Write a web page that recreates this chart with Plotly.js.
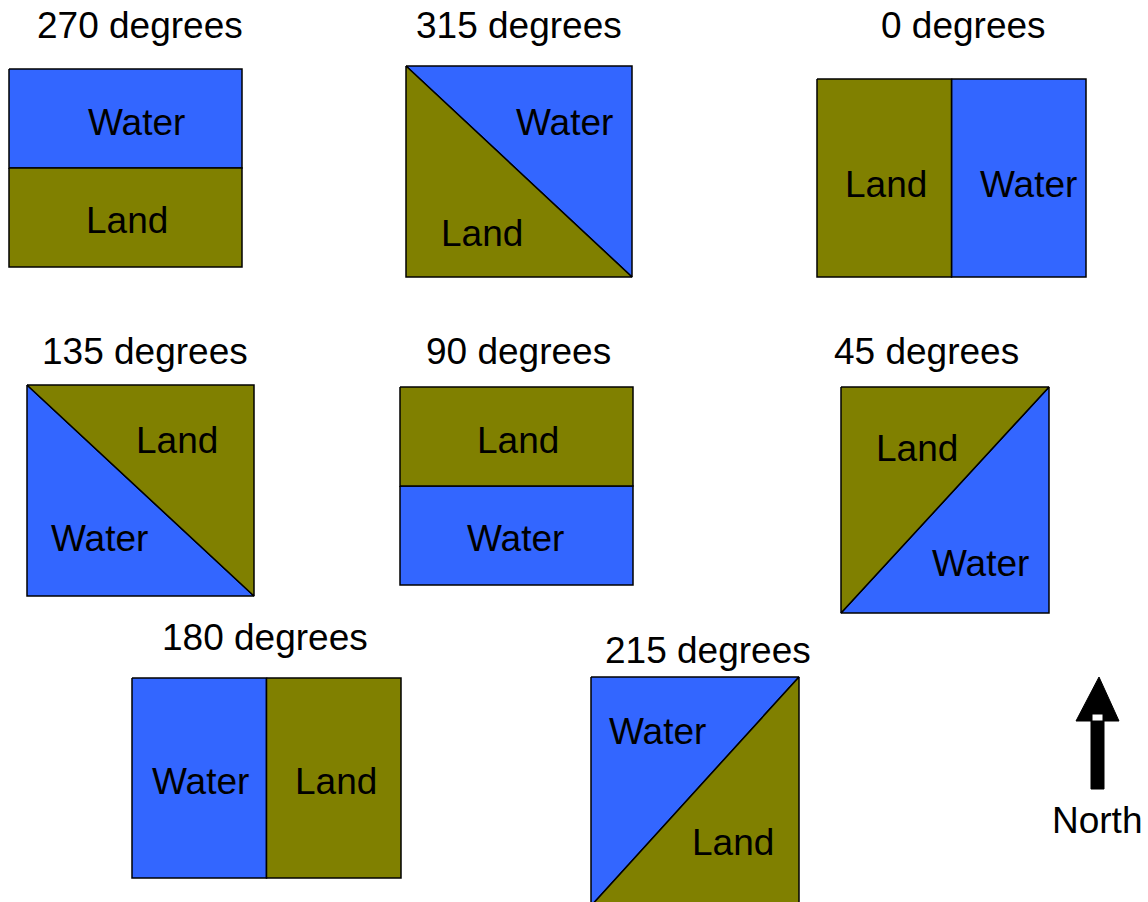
<!DOCTYPE html>
<html>
<head>
<meta charset="utf-8">
<script src="https://cdn.plot.ly/plotly-3.0.1.min.js"></script>
<style>html,body{margin:0;padding:0;background:#fff;}#chart{width:1148px;height:902px;}</style>
</head>
<body>
<div id="chart"></div>
<script>
// ---- data ----
var panelTitles = ['270 degrees', '315 degrees', '0 degrees', '135 degrees', '90 degrees', '45 degrees', '180 degrees', '215 degrees'];
var panelAngles = [270, 315, 0, 135, 90, 45, 180, 215];
var regionNames = ['Water', 'Land'];
var northLabel = 'North';

// ---- layout positions (pixels) ----
// box: [x0, x1, y0(top), y1(bottom)]
var panelBoxes = [
  [9, 242, 69, 267],
  [406, 632, 66, 277],
  [817, 1086, 79, 277],
  [27, 254, 385, 596],
  [400, 633, 387, 585],
  [841, 1049, 387, 613],
  [132, 401, 678, 878],
  [591, 799, 677, 906]
];
var titlePos = [[140, 25], [519, 25], [963, 25], [145, 351], [518, 351], [926, 351], [265, 637], [708, 650]];
// label positions [water, land]
var waterPos = [[136, 122], [564, 122], [1028, 184], [99, 538], [515, 538], [980, 563], [200, 781], [657, 731]];
var landPos  = [[127, 220], [482, 233], [886, 184], [177, 440], [518, 440], [917, 448], [336, 781], [733, 842]];

var WATER = '#3366ff', LAND = '#808000', EDGE = '#000000';

// Geometry of the two regions for each wind angle
function regions(angle, b) {
  var x0 = b[0], x1 = b[1], y0 = b[2], y1 = b[3];
  var xm = (x0 + x1) / 2, ym = (y0 + y1) / 2;
  var top = [[x0, y0], [x1, y0], [x1, ym], [x0, ym]];
  var bot = [[x0, ym], [x1, ym], [x1, y1], [x0, y1]];
  var left = [[x0, y0], [xm, y0], [xm, y1], [x0, y1]];
  var right = [[xm, y0], [x1, y0], [x1, y1], [xm, y1]];
  var ur = [[x0, y0], [x1, y0], [x1, y1]];      // upper-right triangle (diag TL-BR)
  var ll = [[x0, y0], [x1, y1], [x0, y1]];      // lower-left triangle
  var ul = [[x0, y0], [x1, y0], [x0, y1]];      // upper-left triangle (diag BL-TR)
  var lr = [[x1, y0], [x1, y1], [x0, y1]];      // lower-right triangle
  switch (angle) {
    case 270: return {water: top, land: bot};
    case 90:  return {water: bot, land: top};
    case 0:   return {water: right, land: left};
    case 180: return {water: left, land: right};
    case 315: return {water: ur, land: ll};
    case 135: return {water: ll, land: ur};
    case 45:  return {water: lr, land: ul};
    case 215: return {water: ul, land: lr};
  }
}

function poly(pts, color, lw) {
  var xs = pts.map(function (p) { return p[0]; });
  var ys = pts.map(function (p) { return p[1]; });
  xs.push(pts[0][0]); ys.push(pts[0][1]);
  return {x: xs, y: ys, type: 'scatter', mode: 'lines', fill: 'toself', fillcolor: color,
          line: {color: EDGE, width: lw || 1.5}, hoverinfo: 'skip', showlegend: false};
}

var traces = [];
var annotations = [];
var FONT = {family: 'Liberation Sans, Arial, sans-serif', size: 37, color: '#000'};

panelAngles.forEach(function (a, i) {
  var r = regions(a, panelBoxes[i]);
  traces.push(poly(r.water, WATER));
  traces.push(poly(r.land, LAND));
  annotations.push({x: titlePos[i][0], y: titlePos[i][1], text: panelTitles[i], showarrow: false,
                    xref: 'x', yref: 'y', xanchor: 'center', yanchor: 'middle', font: FONT});
  annotations.push({x: waterPos[i][0], y: waterPos[i][1], text: regionNames[0], showarrow: false,
                    xref: 'x', yref: 'y', xanchor: 'center', yanchor: 'middle', font: FONT});
  annotations.push({x: landPos[i][0], y: landPos[i][1], text: regionNames[1], showarrow: false,
                    xref: 'x', yref: 'y', xanchor: 'center', yanchor: 'middle', font: FONT});
});

// North arrow
var arrowHead = [[1099, 677], [1119, 721], [1076, 721]];
var arrowShaft = [[1091, 721], [1104, 721], [1104, 789], [1091, 789]];
var arrowGap = [[1092, 714], [1103, 714], [1103, 721], [1092, 721]];
traces.push(poly(arrowHead, '#000', 1));
traces.push(poly(arrowShaft, '#000', 1));
traces.push(poly(arrowGap, '#fff', 1));
annotations.push({x: 1097, y: 820, text: northLabel, showarrow: false, xref: 'x', yref: 'y',
                  xanchor: 'center', yanchor: 'middle', font: FONT});

var layout = {
  width: 1148, height: 902,
  margin: {l: 0, r: 0, t: 0, b: 0, pad: 0},
  paper_bgcolor: '#fff', plot_bgcolor: '#fff',
  xaxis: {range: [0, 1148], visible: false, fixedrange: true},
  yaxis: {range: [902, 0], visible: false, fixedrange: true},
  annotations: annotations,
  showlegend: false
};

Plotly.newPlot('chart', traces, layout, {staticPlot: true, displayModeBar: false});
</script>
</body>
</html>
